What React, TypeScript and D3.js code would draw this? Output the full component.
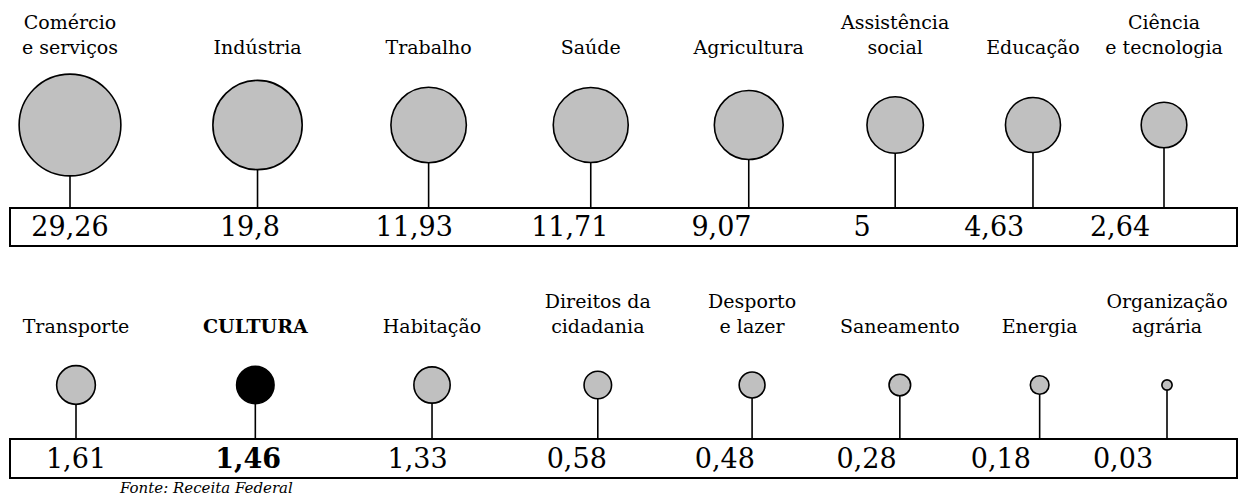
//@ts-nocheck
import { useEffect, useRef } from 'react';
import * as d3 from 'd3';

// top row
const topLabels = [['Comércio', 'e serviços'], ['Indústria'], ['Trabalho'], ['Saúde'], ['Agricultura'], ['Assistência', 'social'], ['Educação'], ['Ciência', 'e tecnologia']];
const topValues = [29.26, 19.8, 11.93, 11.71, 9.07, 5, 4.63, 2.64];

// bottom row
const bottomLabels = [['Transporte'], ['CULTURA'], ['Habitação'], ['Direitos da', 'cidadania'], ['Desporto', 'e lazer'], ['Saneamento'], ['Energia'], ['Organização', 'agrária']];
const bottomValues = [1.61, 1.46, 1.33, 0.58, 0.48, 0.28, 0.18, 0.03];

const highlight = 'CULTURA';
const source = 'Fonte: Receita Federal';

const W = 1247;
const H = 497;
const FONT = "'DejaVu Serif', serif";

const App = () => {
    const svgRef = useRef();

    useEffect(() => {
        const svg = d3.select(svgRef.current);
        svg.selectAll('*').remove();

        // bubble radius ~ cube root of the value
        const r = d3.scalePow().exponent(1 / 3).domain([0, 30]).range([0, 51.3]);

        const fmt = d3.formatLocale({ decimal: ',', thousands: '.', grouping: [3], currency: ['', ''] }).format('~r');

        // place bubbles side by side: gap + weighted radii, stretched to fit the row
        const packX = (values, x0, x1, w) => {
            const rs = values.map(v => r(v));
            const steps = rs.slice(1).map((ri, i) => w * (rs[i] + ri));
            const gap = (x1 - x0 - d3.sum(steps)) / (values.length - 1);
            return Array.from(d3.cumsum([0, ...steps.map(s => s + gap)])).map(d => x0 + d);
        };

        const rows = [
            { labels: topLabels, values: topValues, x0: 70, x1: 1164, w: 1.25, cy: 125, boxTop: 208, boxH: 38, base: 53.5, lineH: 24.5 },
            { labels: bottomLabels, values: bottomValues, x0: 76, x1: 1167, w: 2.2, cy: 385, boxTop: 439, boxH: 39, base: 333, lineH: 25 }
        ];

        rows.forEach(row => {
            const xs = packX(row.values, row.x0, row.x1, row.w);
            // numbers drift left of their stems along the row
            const valueX = d3.scaleLinear().domain([row.x0, row.x1]).range([row.x0, row.x1 - 44]);
            const g = svg.append('g');

            // value box
            g.append('rect')
                .attr('x', 10)
                .attr('y', row.boxTop)
                .attr('width', 1227)
                .attr('height', row.boxH)
                .attr('fill', 'none')
                .attr('stroke', '#000')
                .attr('stroke-width', 2);

            row.values.forEach((v, i) => {
                const cx = xs[i];
                const rad = r(v);
                const isHi = row.labels[i][0] === highlight;

                // stem
                g.append('line')
                    .attr('x1', cx).attr('x2', cx)
                    .attr('y1', row.cy + rad).attr('y2', row.boxTop)
                    .attr('stroke', '#000')
                    .attr('stroke-width', 1.6);

                // bubble
                g.append('circle')
                    .attr('cx', cx)
                    .attr('cy', row.cy)
                    .attr('r', rad)
                    .attr('fill', isHi ? '#000' : '#c0c0c0')
                    .attr('stroke', '#000')
                    .attr('stroke-width', 1.6);

                // category label, last line sits on the base line
                const lines = row.labels[i];
                lines.forEach((t, j) => {
                    g.append('text')
                        .attr('x', cx)
                        .attr('y', row.base - (lines.length - 1 - j) * row.lineH)
                        .attr('text-anchor', 'middle')
                        .style('font-family', FONT)
                        .style('font-size', '19px')
                        .style('font-weight', isHi ? 'bold' : 'normal')
                        .text(t);
                });

                // value
                g.append('text')
                    .attr('x', valueX(cx))
                    .attr('y', row.boxTop + row.boxH - 10)
                    .attr('text-anchor', 'middle')
                    .style('font-family', FONT)
                    .style('font-size', '27px')
                    .style('font-weight', isHi ? 'bold' : 'normal')
                    .text(fmt(v));
            });
        });

        // source note
        svg.append('text')
            .attr('x', 120)
            .attr('y', 493)
            .style('font-family', FONT)
            .style('font-size', '15px')
            .style('font-style', 'italic')
            .text(source);
    }, []);

    return (
        <svg ref={svgRef} width={W} height={H} style={{ position: 'absolute', left: 0, top: 0, background: '#fff' }}></svg>
    );
};

export default App;
